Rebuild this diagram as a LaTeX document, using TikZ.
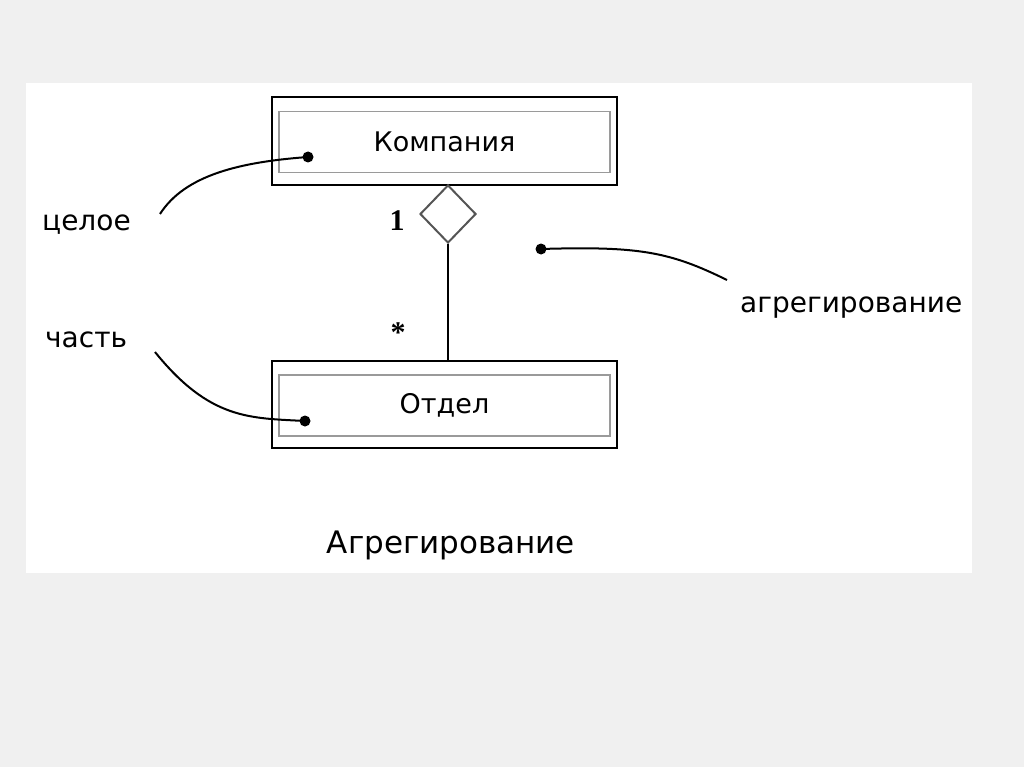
\documentclass[tikz,border=0pt]{standalone}
\usepackage{fontspec}
\setmainfont{DejaVu Sans}
\newfontfamily\numfont{Liberation Serif}
\usetikzlibrary{shapes.geometric}
\definecolor{pagebg}{HTML}{F0F0F0}
\definecolor{innergray}{HTML}{9A9A9A}
\definecolor{diagray}{HTML}{555555}
\tikzset{
  outerbox/.style={draw=black, line width=2.5pt, minimum width=345pt, inner sep=0pt},
  innerbox/.style={draw=innergray, line width=1.8pt, minimum width=331pt, minimum height=61pt, inner sep=0pt, font=\fontsize{27}{30}\selectfont},
  lbl/.style={font=\fontsize{28}{32}\selectfont, inner sep=0pt, anchor=base west},
  mult/.style={font=\numfont\bfseries\fontsize{30}{32}\selectfont, inner sep=0pt},
  dotmark/.style={circle, fill=black, minimum size=11pt, inner sep=0pt},
  noteline/.style={line width=2pt, black},
  aggdiamond/.style={diamond, draw=diagray, line width=2pt, fill=white, minimum width=56pt, minimum height=58pt, inner sep=0pt},
  link/.style={line width=2.3pt, black}
}
\begin{document}
\begin{tikzpicture}[x=1pt,y=-1pt]
\useasboundingbox (0,0) rectangle (1024,767);
\fill[pagebg] (0,0) rectangle (1024,767);
\fill[white] (26,83) rectangle (972,573);
% class boxes
\node[outerbox, minimum height=88pt] (comp) at (444.5,141) {};
\node[innerbox] (compin) at (444.5,142) {Компания};
\node[outerbox, minimum height=87pt] (dept) at (444.5,404.5) {};
\node[innerbox] (deptin) at (444.5,405.5) {Отдел};
% aggregation
\node[aggdiamond] (dia) at (448,214) {};
\draw[link] (dia.south) -- (dia.south |- dept.north);
\node[mult] (one) at (397,221) {1};
\node[mult] (star) at (398,333) {*};
% notes
\node[lbl] (whole) at (42,231) {целое};
\node[lbl] (part) at (45,347) {часть};
\node[lbl] (aggr) at (740,312) {агрегирование};
\node[font=\fontsize{31}{34}\selectfont, inner sep=0pt, anchor=base] (title) at (451,553) {Агрегирование};
\node[dotmark] (d1) at (308,157) {};
\node[dotmark] (d2) at (305,421) {};
\node[dotmark] (d3) at (541,249) {};
\coordinate (e1) at (160,214);
\coordinate (e2) at (155,352);
\coordinate (e3) at (727,280);
\draw[noteline] (e1) .. controls (185,175) and (240,162) .. (d1.center);
\draw[noteline] (e2) .. controls (210,420) and (250,418) .. (d2.center);
\draw[noteline] (d3.center) .. controls (640,246) and (670,252) .. (e3);
\end{tikzpicture}
\end{document}
